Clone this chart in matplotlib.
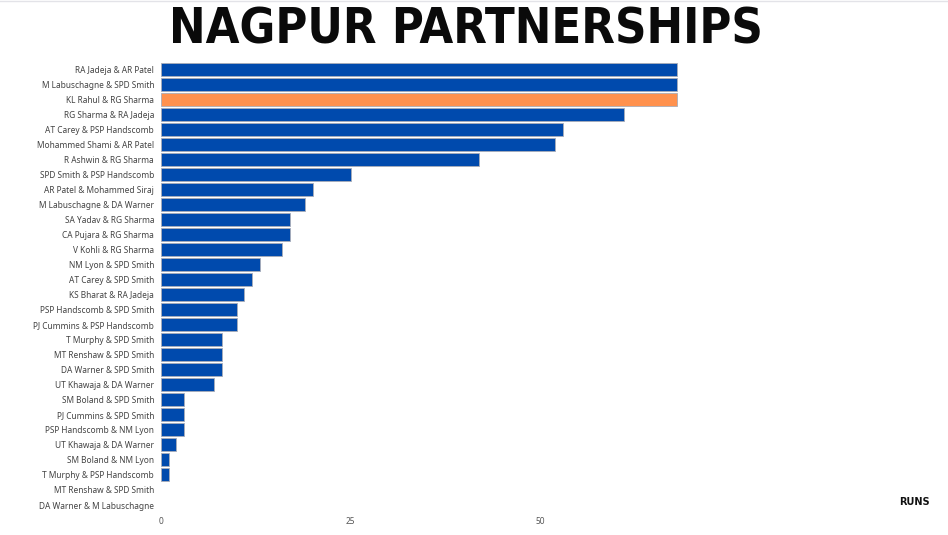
import matplotlib
matplotlib.use("Agg")
import matplotlib.pyplot as plt

pairs = [
    "RA Jadeja & AR Patel", "M Labuschagne & SPD Smith", "KL Rahul & RG Sharma",
    "RG Sharma & RA Jadeja", "AT Carey & PSP Handscomb", "Mohammed Shami & AR Patel",
    "R Ashwin & RG Sharma", "SPD Smith & PSP Handscomb", "AR Patel & Mohammed Siraj",
    "M Labuschagne & DA Warner", "SA Yadav & RG Sharma", "CA Pujara & RG Sharma",
    "V Kohli & RG Sharma", "NM Lyon & SPD Smith", "AT Carey & SPD Smith",
    "KS Bharat & RA Jadeja", "PSP Handscomb & SPD Smith", "PJ Cummins & PSP Handscomb",
    "T Murphy & SPD Smith", "MT Renshaw & SPD Smith", "DA Warner & SPD Smith",
    "UT Khawaja & DA Warner", "SM Boland & SPD Smith", "PJ Cummins & SPD Smith",
    "PSP Handscomb & NM Lyon", "UT Khawaja & DA Warner", "SM Boland & NM Lyon",
    "T Murphy & PSP Handscomb", "MT Renshaw & SPD Smith", "DA Warner & M Labuschagne",
]
runs = [68, 68, 68, 61, 53, 52, 42, 25, 20, 19, 17, 17, 16, 13, 12, 11, 10, 10,
        8, 8, 8, 7, 3, 3, 3, 2, 1, 1, 0, 0]
highlight = "KL Rahul & RG Sharma"
xticks = [0, 25, 50]

fig = plt.figure(figsize=(9.48, 5.35), dpi=100)
ax = fig.add_axes([0.1698, 0.042, 0.8, 0.843])

pos = list(range(len(pairs)))
colors = ["#FF914D" if p == highlight else "#004AAD" for p in pairs]
lws = [0.6 if r > 0 else 0 for r in runs]
ax.barh(pos, runs, height=0.86, color=colors, edgecolor="#a9adb8", linewidth=lws)
ax.set_ylim(len(pairs) - 0.5, -0.5)
ax.set_xlim(0, 100)
ax.set_yticks(pos)
ax.set_yticklabels(pairs, fontsize=6, color="#444444", family="Noto Sans")
ax.set_xticks(xticks)
ax.set_xticklabels([str(t) for t in xticks], fontsize=6, color="#555555", family="Noto Sans")
ax.tick_params(axis="x", length=0, pad=3)
ax.tick_params(axis="y", length=0, pad=5)
for s in ax.spines.values():
    s.set_visible(False)

fig.text(0.492, 0.945, "NAGPUR PARTNERSHIPS", ha="center", va="center",
         fontsize=35, fontweight="bold", family="DejaVu Sans", fontstretch="condensed",
         color="#0a0a0a")
fig.text(0.965, 0.062, "RUNS", ha="center", va="center", fontsize=7,
         fontweight="bold", family="DejaVu Sans", color="#111111")
fig.add_artist(plt.Line2D([0, 1], [0.998, 0.998], color="#e3e3e8", lw=1))

fig.savefig("out.png", dpi=100)
